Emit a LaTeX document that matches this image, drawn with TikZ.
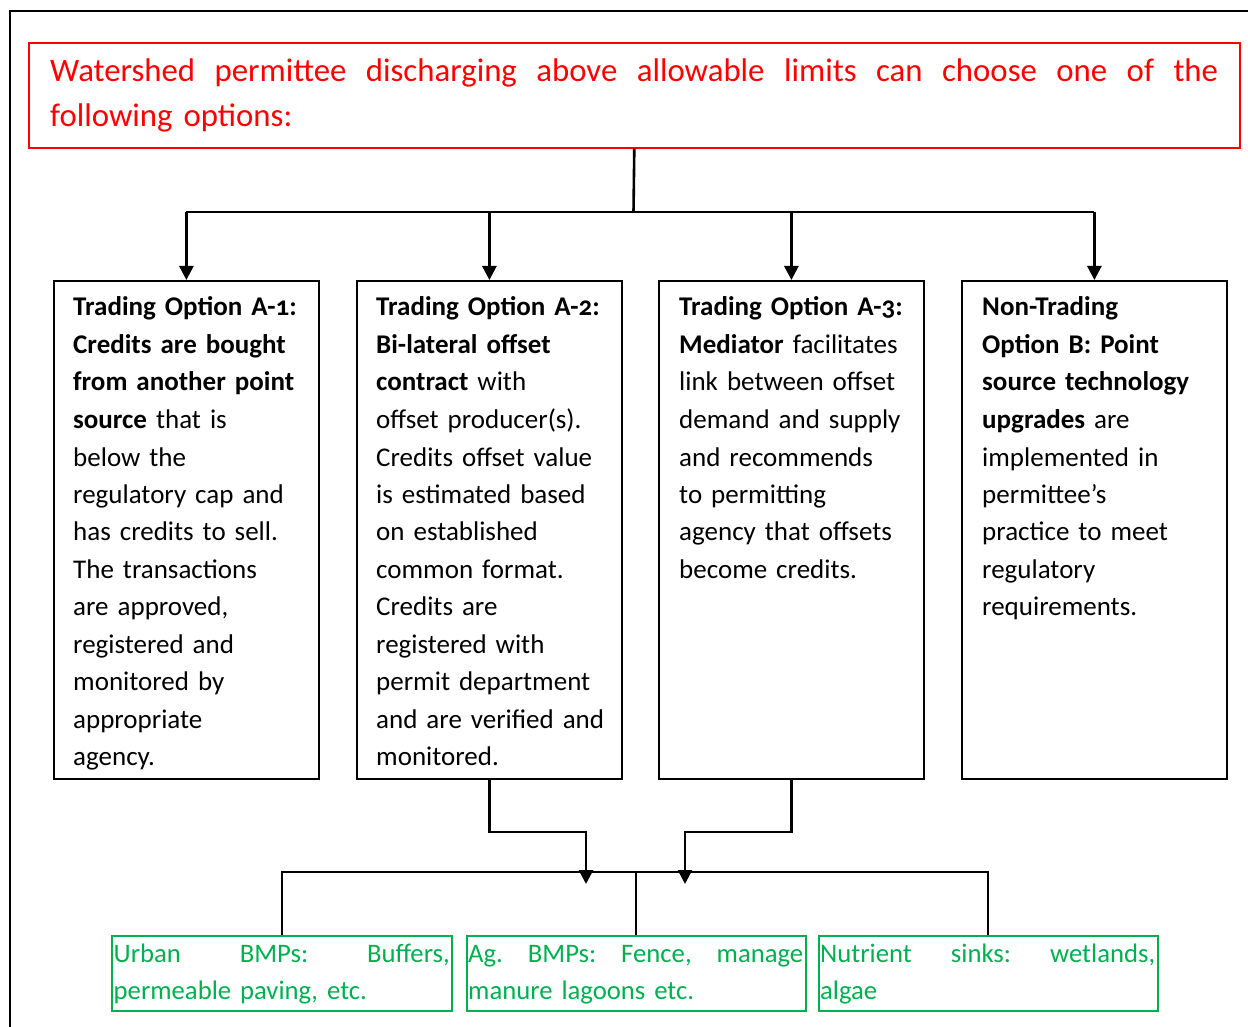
\documentclass[tikz,border=0pt]{standalone}
\usepackage{fontspec}
\setmainfont{Carlito}[Numbers=OldStyle]
\usetikzlibrary{arrows.meta}
\definecolor{hdred}{HTML}{FF0000}
\definecolor{bmpgreen}{HTML}{00B050}
\newcommand{\bodyfnt}{\fontsize{27}{37.5}\selectfont}
\newcommand{\headfnt}{\fontsize{32.8}{44.5}\selectfont}
\newcommand{\greenfnt}{\fontsize{26.7}{37}\selectfont}
\begin{document}
\begin{tikzpicture}[x=1pt,y=-1pt,
  optbox/.style={draw=black, line width=1.8pt, minimum width=265pt, minimum height=498pt, inner sep=0pt, anchor=north west},
  gbox/.style={draw=bmpgreen, line width=1.8pt, minimum width=339pt, minimum height=75pt, inner sep=0pt, anchor=north west},
  bodytext/.style={anchor=base west, inner sep=0pt, text width=245pt, align=left, font=\bodyfnt, text=black},
  gtext/.style={anchor=base west, inner sep=0pt, text width=340pt, align=left, font=\greenfnt, text=bmpgreen},
  conn/.style={draw=black, line width=2.6pt},
  thinconn/.style={draw=black, line width=2pt},
  arr/.style={conn, -{Triangle[length=14pt,width=14pt]}},
  frame/.style={draw=black, line width=1.8pt}
]
\useasboundingbox (0,0) rectangle (1248,1027);

% outer frame (cut by the page edge)
\draw[frame] (10,1027) -- (10,11) -- (1248,11);

% header
\node[draw=hdred, line width=1.6pt, anchor=north west, minimum width=1211pt, minimum height=105pt, inner sep=0pt] (hd) at (28,42) {};
\node[anchor=base west, inner sep=0pt, text width=1170pt, align=left, font=\headfnt, text=hdred] (hdt) at (50,82)
  {\makebox[1168pt][l]{Watershed\hfill permittee\hfill discharging\hfill above\hfill allowable\hfill limits\hfill can\hfill choose\hfill one\hfill of\hfill the}\\following options:};

% option boxes
\node[optbox] (b1) at (53,280) {};
\node[optbox] (b2) at (356,280) {};
\node[optbox] (b3) at (658,280) {};
\node[optbox] (b4) at (961,280) {};

\begin{scope}
\clip (53,280) rectangle (318,772);
\node[bodytext] (t1) at (73,316) {\textbf{Trading Option A-1:}\\
\textbf{Credits are bought}\\
\textbf{from another point}\\
\textbf{source} that is\\
below the\\
regulatory cap and\\
has credits to sell.\\
The transactions\\
are approved,\\
registered and\\
monitored by\\
appropriate\\
agency.};
\end{scope}

\node[bodytext] (t2) at (376,316) {\textbf{Trading Option A-2:}\\
\textbf{Bi-lateral offset}\\
\textbf{contract} with\\
offset producer(s).\\
Credits offset value\\
is estimated based\\
on established\\
common format.\\
Credits are\\
registered with\\
permit department\\
and are verified and\\
monitored.};

\node[bodytext] (t3) at (679,316) {\textbf{Trading Option A-3:}\\
\textbf{Mediator} facilitates\\
link between offset\\
demand and supply\\
and recommends\\
to permitting\\
agency that offsets\\
become credits.};

\node[bodytext] (t4) at (982,316) {\textbf{Non-Trading}\\
\textbf{Option B: Point}\\
\textbf{source technology}\\
\textbf{upgrades} are\\
implemented in\\
permittee’s\\
practice to meet\\
regulatory\\
requirements.};

% green boxes
\node[gbox, minimum width=340pt] (g1) at (111,935) {};
\node[gbox] (g2) at (466,935) {};
\node[gbox] (g3) at (818,935) {};

\node[gtext] (gt1) at (113.5,962) {\makebox[336pt][l]{Urban\hfill BMPs:\hfill Buffers,}\\permeable paving, etc.};
\node[gtext] (gt2) at (468,962) {\makebox[335pt][l]{Ag.\hfill BMPs:\hfill Fence,\hfill manage}\\manure lagoons etc.};
\node[gtext] (gt3) at (820,962) {\makebox[335pt][l]{Nutrient\hfill sinks:\hfill wetlands,}\\algae};

% top connectors
\coordinate (tj) at (633.5,212);
\draw[conn] (hd.south) -- (tj);
\draw[conn] (b1.north |- tj) -- (b4.north |- tj);
\draw[arr] (b1.north |- tj) -- (b1.north);
\draw[arr] (b2.north |- tj) -- (b2.north);
\draw[arr] (b3.north |- tj) -- (b3.north);
\draw[arr] (b4.north |- tj) -- (b4.north);

% bottom bus
\coordinate (busL) at (g1.north |- 0,872);
\coordinate (busR) at (g3.north |- 0,872);
\draw[thinconn] (g1.north) -- (busL) -- (busR) -- (g3.north);
\draw[thinconn] (g2.north) -- (g2.north |- busL);

% arrows from options A-2 and A-3 to the bus
\coordinate (m2) at (586,832);
\coordinate (e2) at (586,884);
\coordinate (m3) at (685,832);
\coordinate (e3) at (685,884);
\draw[arr] (b2.south) |- (m2) -- (e2);
\draw[arr] (b3.south) |- (m3) -- (e3);
\end{tikzpicture}
\end{document}
